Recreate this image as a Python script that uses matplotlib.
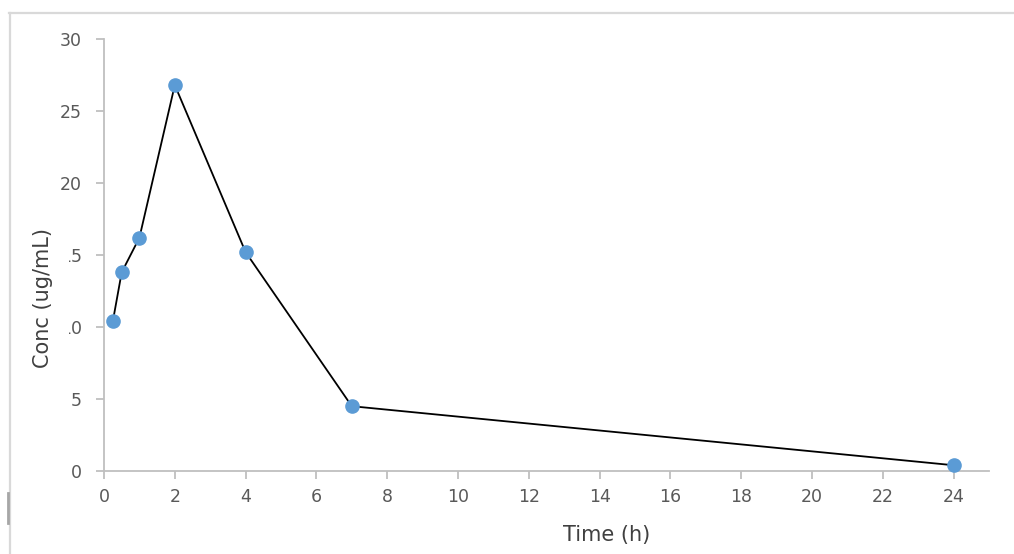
import matplotlib
matplotlib.use("Agg")
import matplotlib.pyplot as plt
from matplotlib.lines import Line2D
from matplotlib.patches import Rectangle
from matplotlib import font_manager

# ---- data ----
time_h = [0.25, 0.5, 1, 2, 4, 7, 24]
conc = [10.4, 13.8, 16.2, 26.8, 15.2, 4.5, 0.4]
x_ticks = [0, 2, 4, 6, 8, 10, 12, 14, 16, 18, 20, 22, 24]
y_ticks = [0, 5, 10, 15, 20, 25, 30]
x_label = "Time (h)"
y_label = "Conc (ug/mL)"

names = {f.name for f in font_manager.fontManager.ttflist}
narrow = "Liberation Sans Narrow" if "Liberation Sans Narrow" in names else "DejaVu Sans"

W, H = 1014, 554
fig = plt.figure(figsize=(W / 100, H / 100), dpi=100)
fig.patch.set_facecolor("white")

def fx(px):
    return px / W

def fy(py):
    return 1 - py / H

ax = fig.add_axes([fx(104), fy(471), fx(989) - fx(104), fy(39) - fy(471)])
ax.plot(time_h, conc, color="black", lw=1.3, zorder=2)
ax.plot(time_h, conc, "o", color="#5b9bd5", ms=9.5, mec="#5b9bd5", zorder=3)

ax.set_xlim(0, 25)
ax.set_ylim(0, 30)
ax.set_xticks(x_ticks)
ax.set_yticks(y_ticks)
for s in ["top", "right"]:
    ax.spines[s].set_visible(False)
for s in ["left", "bottom"]:
    ax.spines[s].set_color("#bfbfbf")
    ax.spines[s].set_linewidth(1.3)
ax.tick_params(axis="both", direction="out", length=6, width=1.3, color="#bfbfbf",
               labelcolor="#595959")
ax.tick_params(axis="y", labelsize=12.5, pad=10)
ax.tick_params(axis="x", labelsize=12.5, pad=6)
for lab in ax.get_xticklabels():
    lab.set_fontfamily(narrow)
    if narrow != "DejaVu Sans":
        lab.set_fontsize(14)
for ln in ax.lines:
    ln.set_clip_on(False)

# white patch hiding part of the y tick labels, as in the reference
fig.patches.append(Rectangle((fx(52), fy(352)), fx(68.5) - fx(52), fy(213) - fy(352),
                             transform=fig.transFigure, facecolor="white",
                             edgecolor="none", zorder=5))
fig.text(fx(43), fy(298), y_label, rotation=90, ha="center", va="center",
         fontsize=15, color="#404040", zorder=6)
fig.text(fx(607), fy(535), x_label, ha="center", va="center",
         fontsize=15, color="#404040")

# outer frame lines
fig.add_artist(Line2D([fx(9), 1], [fy(13), fy(13)], transform=fig.transFigure,
                      color="#d9d9d9", lw=1.6))
fig.add_artist(Line2D([fx(10), fx(10)], [fy(13), 0], transform=fig.transFigure,
                      color="#d9d9d9", lw=1.6))
fig.add_artist(Line2D([fx(8), fx(8)], [fy(493), fy(523)], transform=fig.transFigure,
                      color="#a6a6a6", lw=2))

fig.savefig("out.png", dpi=100, facecolor="white")
